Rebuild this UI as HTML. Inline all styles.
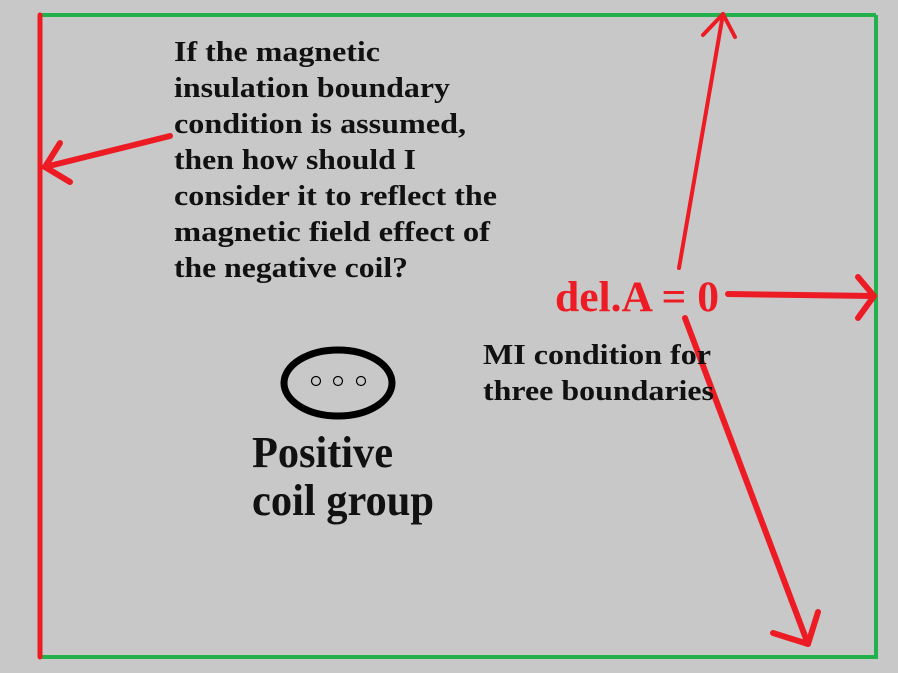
<!DOCTYPE html>
<html><head><meta charset="utf-8"><style>
html,body{margin:0;padding:0;background:#c8c8c8;}
svg{display:block;}
text{font-family:"Liberation Serif",serif;font-weight:bold;}
</style></head><body>
<svg width="898" height="673" viewBox="0 0 898 673" xmlns="http://www.w3.org/2000/svg">
<rect width="898" height="673" fill="#c8c8c8"/>
<g stroke="#22b14c" stroke-width="4" fill="none">
<line x1="40" y1="15" x2="876" y2="15"/>
<line x1="876" y1="15" x2="876" y2="659"/>
<line x1="40" y1="657" x2="876" y2="657"/>
</g>
<g stroke="#ed1c24" fill="none" stroke-linecap="round" stroke-linejoin="round">
<line x1="40" y1="15" x2="40" y2="657" stroke-width="5"/>
<g stroke-width="6">
<line x1="170" y1="136" x2="45" y2="167"/>
<polyline points="60,143 45,167 70,182"/>
<line x1="728" y1="294" x2="874" y2="296"/>
<polyline points="858,277 874,296 858,318"/>
<line x1="685" y1="318" x2="808" y2="644"/>
<polyline points="773,633 808,644 818,612"/>
</g>
<g stroke-width="4">
<line x1="679" y1="268" x2="723" y2="14"/>
<polyline points="703,35 723,14 735,37"/>
</g>
</g>
<g fill="#111" font-size="29">
<text x="174" y="61" textLength="206" lengthAdjust="spacingAndGlyphs">If the magnetic</text>
<text x="174" y="97" textLength="276" lengthAdjust="spacingAndGlyphs">insulation boundary</text>
<text x="174" y="133" textLength="292" lengthAdjust="spacingAndGlyphs">condition is assumed,</text>
<text x="174" y="169" textLength="242" lengthAdjust="spacingAndGlyphs">then how should I</text>
<text x="174" y="205" textLength="323" lengthAdjust="spacingAndGlyphs">consider it to reflect the</text>
<text x="174" y="241" textLength="316" lengthAdjust="spacingAndGlyphs">magnetic field effect of</text>
<text x="174" y="277" textLength="234" lengthAdjust="spacingAndGlyphs">the negative coil?</text>
<text x="483" y="364" textLength="228" lengthAdjust="spacingAndGlyphs">MI condition for</text>
<text x="483" y="400" textLength="231" lengthAdjust="spacingAndGlyphs">three boundaries</text>
</g>
<text x="555" y="311" font-size="43" fill="#ed1c24" textLength="164" lengthAdjust="spacingAndGlyphs">del.A = 0</text>
<g fill="#111" font-size="44">
<text x="252" y="467" textLength="141" lengthAdjust="spacingAndGlyphs">Positive</text>
<text x="252" y="515" textLength="182" lengthAdjust="spacingAndGlyphs">coil group</text>
</g>
<ellipse cx="338" cy="383" rx="54" ry="33" fill="none" stroke="#000" stroke-width="7"/>
<g fill="none" stroke="#000" stroke-width="1.2">
<circle cx="316" cy="381" r="4.5"/>
<circle cx="338" cy="381" r="4.5"/>
<circle cx="361" cy="381" r="4.5"/>
</g>
</svg>
</body></html>
